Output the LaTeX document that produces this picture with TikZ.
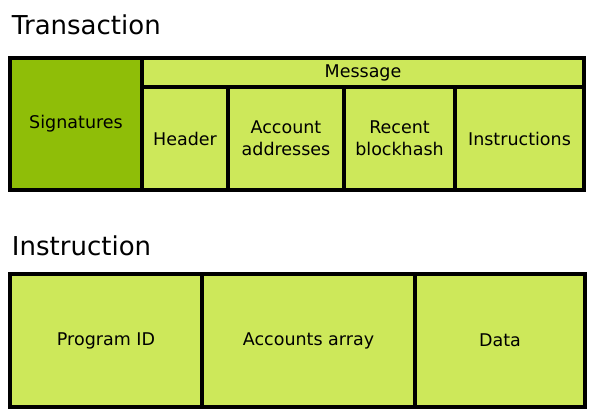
\documentclass[tikz,border=0pt]{standalone}
\usepackage{fontspec}
\setmainfont{DejaVu Sans}
\definecolor{leafgreen}{HTML}{CDE85A}
\definecolor{mossgreen}{HTML}{8FBE08}

\begin{document}
\begin{tikzpicture}
            [x=1pt,y=-1pt,every node/.style={draw=black,line width=3.2pt,fill=leafgreen,
             anchor=north west,inner sep=0pt,outer sep=0pt,align=center,
             font=\fontsize{17.5}{22}\selectfont},
             title/.style={draw=none,fill=none,anchor=base west,font=\fontsize{26}{30}\selectfont}]
            \useasboundingbox (0,0) rectangle (594,417);

            % transaction layout
            \node[title] (txtitle) at (12,35) {Transaction};
            \node[fill=mossgreen,minimum width=132pt,minimum height=132pt] (sigs) at (10,58) {Signatures};
            \node[minimum width=442pt,minimum height=29pt] (msg) at (142,58) {Message};
            \node[minimum width=86pt,minimum height=103pt] (hdr) at (142,87) {Header};
            \node[minimum width=116pt,minimum height=103pt] (accts) at (228,87) {Account\\addresses};
            \node[minimum width=111pt,minimum height=103pt] (hash) at (344,87) {Recent\\blockhash};
            \node[minimum width=129pt,minimum height=103pt] (instrs) at (455,87) {Instructions};

            % instruction layout
            \node[title] (ixtitle) at (12,255) {Instruction};
            \node[minimum width=192pt,minimum height=133pt] (prog) at (10,274) {Program ID};
            \node[minimum width=213pt,minimum height=133pt] (arr) at (202,274) {Accounts array};
            \node[minimum width=170pt,minimum height=133pt] (data) at (415,274) {Data};

          \end{tikzpicture}
\end{document}
